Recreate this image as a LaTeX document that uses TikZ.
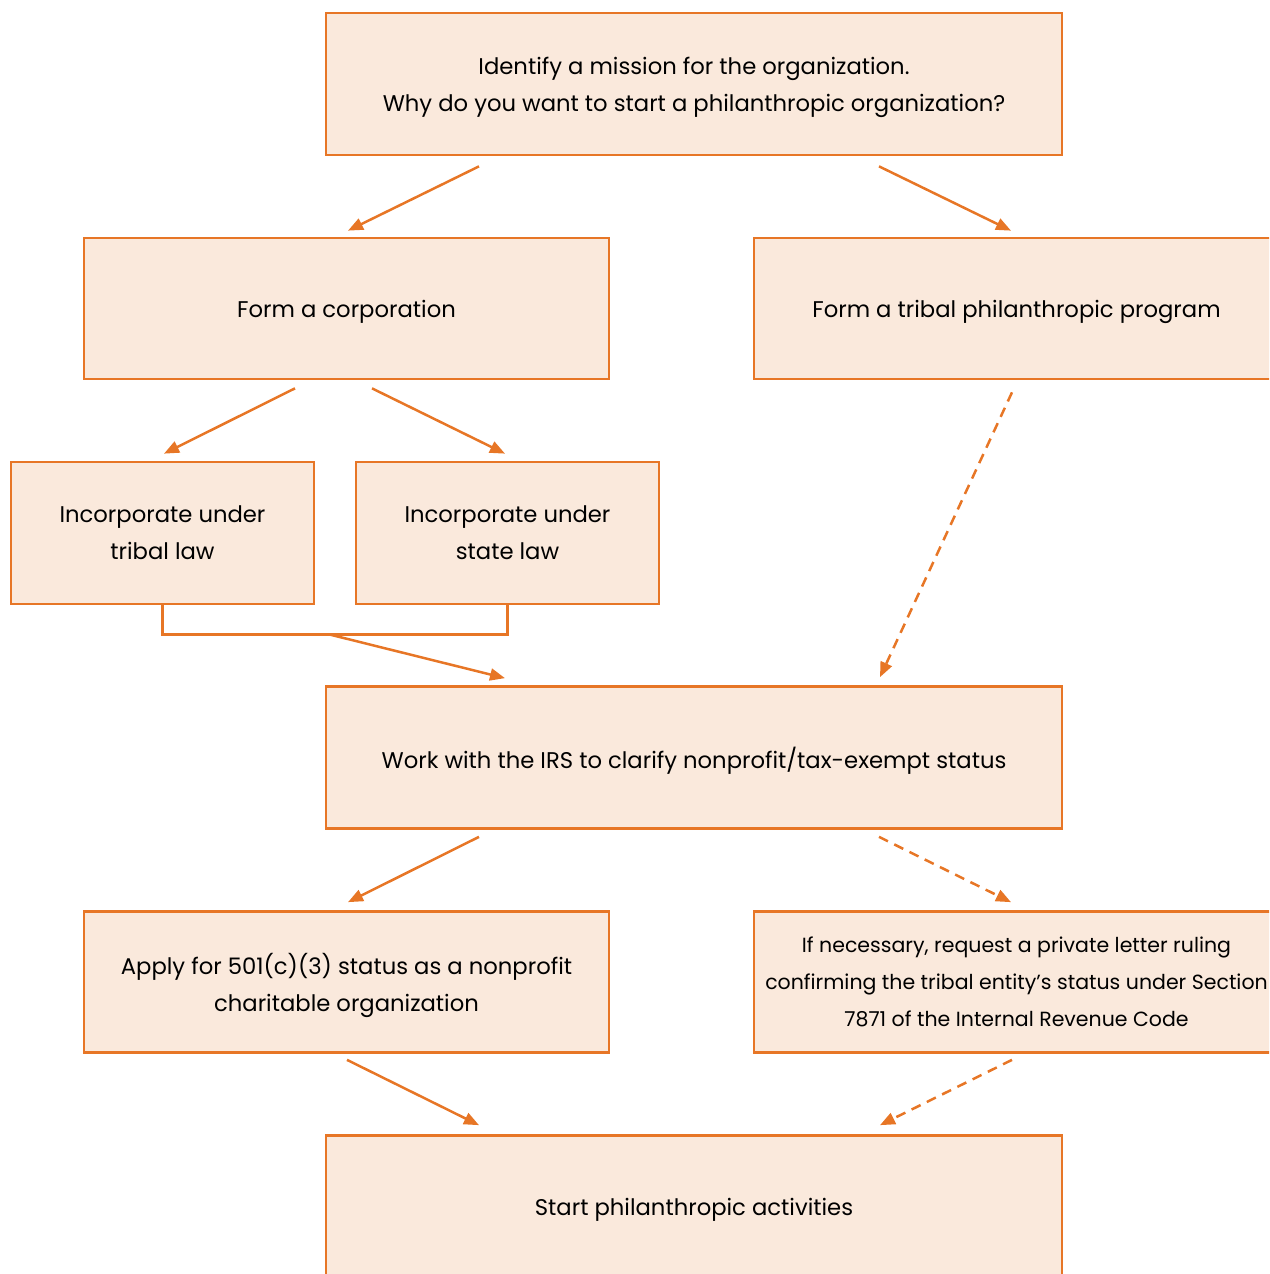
\documentclass[tikz,border=0pt]{standalone}
\usepackage{fontspec}
\setmainfont{Poppins}
\usetikzlibrary{arrows.meta,positioning,calc}
\definecolor{stepline}{RGB}{231,118,38}
\definecolor{stepfill}{RGB}{250,233,220}

\begin{document}
\begin{tikzpicture}[
  x=1pt, y=-1pt,
  box/.style={draw=stepline, fill=stepfill, line width=2.7pt, align=center, font=\fontsize{22.7}{37}\selectfont, inner sep=0pt, text depth=-8pt},
  wide/.style={box, minimum width=736pt, minimum height=142pt},
  mid/.style={box, minimum width=525pt, minimum height=141pt},
  narrow/.style={box, minimum width=303pt, minimum height=142pt},
  arr/.style={-{Triangle[length=15pt, width=12pt]}, line width=2.5pt, draw=stepline},
  darr/.style={arr, dash pattern=on 10pt off 7pt},
  link/.style={line width=2.5pt, draw=stepline}
]
\useasboundingbox (0,0) rectangle (1269,1274);
\clip (0,0) rectangle (1269,1274);

\node[wide] (mission) at (694,84) {Identify a mission for the organization.\\Why do you want to start a philanthropic organization?};
\node[mid] (corp) at (346.5,308.5) {Form a corporation};
\node[mid] (program) at (1016.5,308.5) {Form a tribal philanthropic program};
\node[narrow] (triblaw) at (162.5,533) {Incorporate under\\tribal law};
\node[narrow] (statelaw) at (507.5,533) {Incorporate under\\state law};
\node[wide] (irs) at (694,757.5) {Work with the IRS to clarify nonprofit/tax-exempt status};
\node[mid] (apply) at (346.5,982) {Apply for 501(c)(3) status as a nonprofit\\charitable organization};
\node[mid, font=\fontsize{20.5}{37}\selectfont] (ruling) at (1016.5,982) {If necessary, request a private letter ruling\\confirming the tribal entity’s status under Section\\7871 of the Internal Revenue Code};
\node[wide] (start) at (694,1206.5) {Start philanthropic activities};

\draw[arr] ([shift={(-215,10)}]mission.south) -- ([shift={(1.5,-6)}]corp.north);
\draw[arr] ([shift={(185,10)}]mission.south) -- ([shift={(-5.5,-6)}]program.north);
\draw[arr] ([shift={(-51.5,8)}]corp.south) -- ([shift={(1.5,-7)}]triblaw.north);
\draw[arr] ([shift={(25.5,8)}]corp.south) -- ([shift={(-2.5,-7)}]statelaw.north);

% bracket joining the two ways to incorporate
\draw[link] (triblaw.south) -- ++(0,29) coordinate (bl) -| (statelaw.south);
\coordinate (join) at ($(bl)!0.5!(bl -| statelaw.south)$);
\draw[arr] ([xshift=-6pt]join) -- ([shift={(-189,-7)}]irs.north);
\draw[darr] ([shift={(-4.5,12)}]program.south) -- ([shift={(186,-8)}]irs.north);

\draw[arr] ([shift={(-215,7)}]irs.south) -- ([shift={(1.5,-8)}]apply.north);
\draw[darr] ([shift={(185,7)}]irs.south) -- ([shift={(-5.5,-8)}]ruling.north);
\draw[arr] ([shift={(0.5,6)}]apply.south) -- ([shift={(-215,-9)}]start.north);
\draw[darr] ([shift={(-4.5,6)}]ruling.south) -- ([shift={(186,-9)}]start.north);
\end{tikzpicture}
\end{document}
